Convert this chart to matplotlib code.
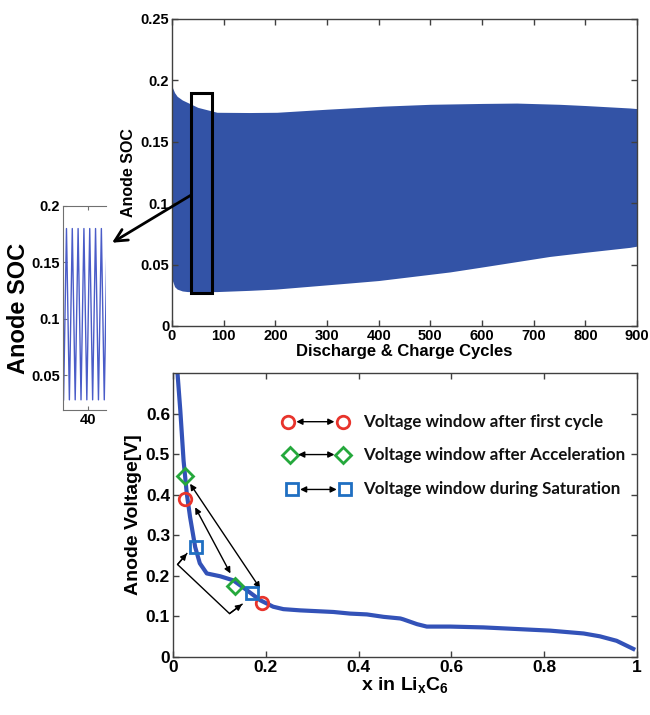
import numpy as np
import matplotlib
matplotlib.use("Agg")
import matplotlib.pyplot as plt
from matplotlib.patches import Rectangle, ConnectionPatch

plt.rcParams["font.family"] = ["Liberation Sans", "DejaVu Sans"]
plt.rcParams["font.weight"] = "bold"
plt.rcParams["mathtext.fontset"] = "custom"
plt.rcParams["mathtext.rm"] = "Liberation Sans:bold"
plt.rcParams["mathtext.it"] = "Liberation Sans:bold"
plt.rcParams["mathtext.bf"] = "Liberation Sans:bold"

# ---- top panel: envelope of anode SOC over cycles ----
cyc = [0, 5, 10, 20, 35, 50, 87, 150, 203, 300, 408, 500, 600, 667, 750, 800, 886, 900]
soc_hi = [0.195, 0.190, 0.187, 0.184, 0.181, 0.178, 0.174, 0.1738, 0.174, 0.1765, 0.179,
          0.1805, 0.1812, 0.1815, 0.1805, 0.1795, 0.1775, 0.177]
cyc_lo = [0, 5, 10, 20, 30, 87, 150, 200, 344, 400, 538, 600, 731, 800, 886, 900]
soc_lo = [0.038, 0.032, 0.030, 0.0285, 0.028, 0.028, 0.029, 0.030, 0.035, 0.037, 0.044,
          0.048, 0.0566, 0.060, 0.064, 0.065]
zoom_box = (37, 77, 0.027, 0.190)

# ---- inset: individual cycles ----
inset_t = [35.8, 36.3, 36.8, 37.3, 37.8, 38.3, 38.8, 39.3, 39.8, 40.3, 40.8, 41.3,
           41.8, 42.3, 42.8, 43.3]
inset_soc = [0.028, 0.18, 0.028, 0.18, 0.028, 0.18, 0.028, 0.18, 0.028, 0.18, 0.028,
             0.18, 0.028, 0.18, 0.028, 0.18]

# ---- bottom panel: anode voltage curve ----
x_li = [0.0099, 0.016, 0.023, 0.030, 0.037, 0.048, 0.058, 0.073, 0.102, 0.130, 0.159,
        0.188, 0.216, 0.238, 0.274, 0.346, 0.382, 0.418, 0.454, 0.49, 0.496, 0.526,
        0.547, 0.598, 0.669, 0.741, 0.813, 0.885, 0.92, 0.956, 0.992]
v_an = [0.70, 0.607, 0.484, 0.402, 0.345, 0.271, 0.231, 0.206, 0.199, 0.189, 0.165,
        0.140, 0.124, 0.118, 0.115, 0.111, 0.107, 0.105, 0.099, 0.095, 0.093, 0.081,
        0.075, 0.075, 0.073, 0.069, 0.065, 0.058, 0.051, 0.040, 0.020]

win_first = ([0.026, 0.192], [0.39, 0.134])
win_accel = ([0.026, 0.134], [0.447, 0.175])
win_sat = ([0.050, 0.170], [0.271, 0.159])

legend_labels = ["Voltage window after first cycle",
                 "Voltage window after Acceleration",
                 "Voltage window during Saturation"]

top_xt = [0, 100, 200, 300, 400, 500, 600, 700, 800, 900]
top_yt = [0, 0.05, 0.1, 0.15, 0.2, 0.25]
top_ytl = ["0", "0.05", "0.1", "0.15", "0.2", "0.25"]
bot_xt = [0, 0.2, 0.4, 0.6, 0.8, 1]
bot_xtl = ["0", "0.2", "0.4", "0.6", "0.8", "1"]
bot_yt = [0, 0.1, 0.2, 0.3, 0.4, 0.5, 0.6]
bot_ytl = ["0", "0.1", "0.2", "0.3", "0.4", "0.5", "0.6"]

BLUE_FILL = "#3353a6"
BLUE_LINE = "#3352b8"
RED = "#e8342c"
GREEN = "#25a83c"
SQ_BLUE = "#1f6fc2"
SPINE = "#404040"

fig = plt.figure(figsize=(6.5, 7.15), dpi=100)

def style_box(ax):
    for s in ax.spines.values():
        s.set_color(SPINE)
        s.set_linewidth(1.0)
    ax.tick_params(direction="in", top=True, right=True, length=4, width=1,
                   color=SPINE, pad=2)

# top panel
ax1 = fig.add_axes([0.2646, 0.5441, 0.7154, 0.4294])
ax1.fill_between(cyc, soc_hi, color=BLUE_FILL, lw=0)
ax1.fill_between(cyc_lo, soc_lo, color="white", lw=0)
ax1.set_xlim(0, 900)
ax1.set_ylim(0, 0.25)
ax1.set_xticks(top_xt)
ax1.set_xticklabels([str(v) for v in top_xt], fontsize=10.5, fontweight="bold")
ax1.set_yticks(top_yt)
ax1.set_yticklabels(top_ytl, fontsize=10.5, fontweight="bold")
style_box(ax1)
ax1.set_xlabel("Discharge & Charge Cycles", fontsize=12, fontweight="bold", labelpad=1)
ax1.set_ylabel("Anode SOC", fontsize=11.5, fontweight="bold", labelpad=3)
ax1.add_patch(Rectangle((zoom_box[0], zoom_box[2]), zoom_box[1] - zoom_box[0],
                        zoom_box[3] - zoom_box[2], fill=False, ec="black", lw=2.2, zorder=5))

# inset
ax0 = fig.add_axes([0.0969, 0.4266, 0.0662, 0.2853])
ax0.plot(inset_t, inset_soc, color="#4a5cc8", lw=1.0)
ax0.set_xlim(35.7, 43.1)
ax0.set_ylim(0.019, 0.2)
ax0.set_xticks([40])
ax0.set_xticklabels(["40"], fontsize=10.5, fontweight="bold")
ax0.set_yticks([0.05, 0.1, 0.15, 0.2])
ax0.set_yticklabels(["0.05", "0.1", "0.15", "0.2"], fontsize=10.5, fontweight="bold")
for s in ax0.spines.values():
    s.set_color("#707070")
ax0.spines["right"].set_visible(False)
ax0.tick_params(direction="in", top=True, right=False, length=3, color="#707070", pad=2)
ax0.set_ylabel("Anode SOC", fontsize=17, fontweight="bold", labelpad=1)

con = ConnectionPatch(xyA=(zoom_box[0], 0.1066), coordsA="data", axesA=ax1,
                      xyB=(1.14, 0.82), coordsB="axes fraction", axesB=ax0,
                      arrowstyle="->", lw=2.0, color="black", mutation_scale=22)
fig.add_artist(con)

# bottom panel
ax2 = fig.add_axes([0.266, 0.0811, 0.714, 0.3972])
ax2.plot(x_li, v_an, color=BLUE_LINE, lw=3, zorder=2)
ax2.set_xlim(0, 1)
ax2.set_ylim(0, 0.7)
ax2.set_xticks(bot_xt)
ax2.set_xticklabels(bot_xtl, fontsize=12.5, fontweight="bold")
ax2.set_yticks(bot_yt)
ax2.set_yticklabels(bot_ytl, fontsize=12.5, fontweight="bold")
style_box(ax2)
ax2.set_ylabel("Anode Voltage[V]", fontsize=14, fontweight="bold", labelpad=3)
ax2.set_xlabel(r"x in Li$_x$C$_6$", fontsize=14, fontweight="bold", labelpad=0)

mk = dict(mfc="none", mew=2.0, ms=9, ls="none", zorder=4)
ax2.plot(*win_first, marker="o", mec=RED, **mk)
ax2.plot(*win_accel, marker="D", mec=GREEN, **dict(mk, ms=8))
ax2.plot(*win_sat, marker="s", mec=SQ_BLUE, **mk)

arr = dict(arrowstyle="<|-|>", color="black", lw=1.0, mutation_scale=9,
           shrinkA=0, shrinkB=0)
ax2.annotate("", xy=(0.037, 0.427), xytext=(0.188, 0.169), arrowprops=arr)
ax2.annotate("", xy=(0.048, 0.369), xytext=(0.124, 0.206), arrowprops=arr)
brk_x = [0.030, 0.010, 0.122, 0.149]
brk_y = [0.255, 0.228, 0.107, 0.130]
ax2.plot(brk_x, brk_y, color="black", lw=1.0)
head = dict(arrowstyle="-|>", color="black", lw=1.0, mutation_scale=9, shrinkA=0, shrinkB=0)
ax2.annotate("", xy=(brk_x[0], brk_y[0]), xytext=(brk_x[1], brk_y[1]), arrowprops=head)
ax2.annotate("", xy=(brk_x[3], brk_y[3]), xytext=(brk_x[2], brk_y[2]), arrowprops=head)

# hand-made legend
leg_y = [0.58, 0.499, 0.413]
leg_x1 = [0.248, 0.252, 0.256]
leg_x2 = [0.366, 0.366, 0.371]
leg_mk = [("o", RED, 9), ("D", GREEN, 8), ("s", SQ_BLUE, 9)]
for yy, a, b, (m, c, s), lab in zip(leg_y, leg_x1, leg_x2, leg_mk, legend_labels):
    ax2.plot([a, b], [yy, yy], marker=m, mec=c, mfc="none", mew=2.0, ms=s, ls="none")
    ax2.annotate("", xy=(a + 0.018, yy), xytext=(b - 0.018, yy), arrowprops=arr)
    ax2.text(0.41, yy, lab, fontsize=12.2, fontweight="bold", family=["Lato", "DejaVu Sans"],
             va="center", ha="left", color="#111111")

fig.savefig("out.png", dpi=100)
